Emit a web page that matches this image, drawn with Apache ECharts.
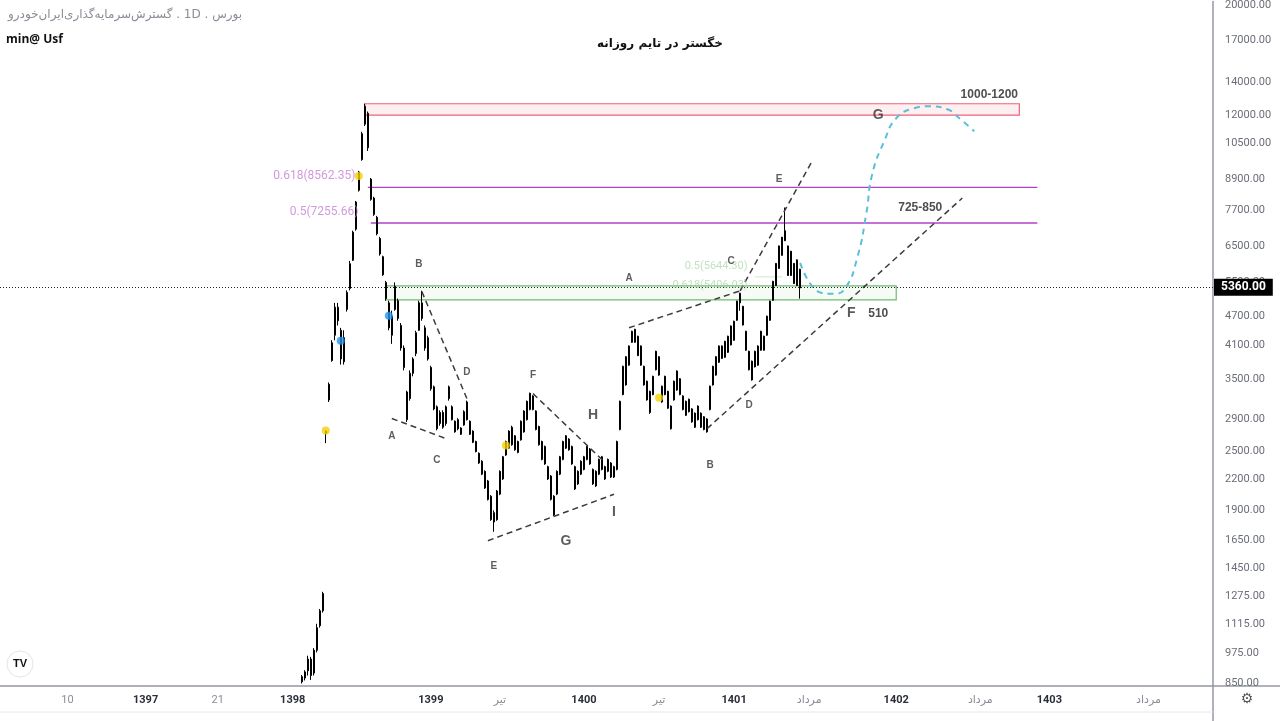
<!DOCTYPE html>
<html>
<head>
<meta charset="utf-8">
<script src="https://cdn.jsdelivr.net/npm/echarts@6/dist/echarts.min.js"></script>
<style>
  html, body { margin: 0; padding: 0; background: #fff; }
  #container { width: 1280px; height: 721px; }
</style>
</head>
<body>
<div id="container"></div>
<script>
let dom = document.getElementById("container");
let myChart = echarts.init(dom);

// x axis: one slot per candle, ticks at these slots
const slotCount = 404;
const tickIdx = [22, 48, 72, 97, 143, 166, 194, 219, 244, 269, 298, 326, 349, 382];
const tickText = ['10', '1397', '21', '1398', '1399', 'تیر', '1400', 'تیر', '1401', 'مرداد', '1402', 'مرداد', '1403', 'مرداد'];

// y axis (log scale) tick prices
const priceTicks = [20000, 17000, 14000, 12000, 10500, 8900, 7700, 6500, 5500, 4700, 4100, 3500,
    2900, 2500, 2200, 1900, 1650, 1450, 1275, 1115, 975, 850];
const priceMin = 838;
const priceMax = 20375;
const lastPrice = 5360;

// candles [open, close, low, high], first one sits on slot candleStart
const candleStart = 100;
const candles = [
    [855, 875, 848, 882], [870, 895, 860, 902], [900, 950, 880, 965], [950, 880, 862, 960],
    [890, 990, 880, 1000], [990, 1100, 980, 1120], [1110, 1190, 1100, 1200], [1190, 1290, 1180, 1300],
    [2750, 2720, 2600, 2760], [3180, 3420, 3150, 3450], [3820, 4150, 3800, 4200], [4300, 4900, 4200, 5000],
    [4900, 4600, 4500, 5000], [4400, 3850, 3750, 4450], [3800, 4250, 3750, 4400], [4850, 5250, 4800, 5300],
    [5350, 6000, 5300, 6080], [6100, 6950, 6080, 7000], [7050, 8000, 7000, 8040], [8450, 9200, 8400, 9250],
    [9750, 11000, 9700, 11100], [11500, 12500, 11400, 12650], [12100, 10300, 10150, 12200], [8900, 8100, 8050, 8950],
    [8150, 7550, 7500, 8200], [7450, 6900, 6850, 7500], [6750, 6280, 6230, 6800], [6200, 5700, 5670, 6230],
    [5500, 5100, 5050, 5540], [5000, 4450, 4400, 5050], [4300, 4700, 4130, 4820], [4850, 5400, 4820, 5500],
    [5050, 4650, 4600, 5100], [4500, 4050, 4000, 4550], [4050, 3700, 3650, 4100], [3300, 2900, 2870, 3320],
    [3200, 3600, 3170, 3650], [3600, 3850, 3550, 3880], [3950, 4350, 3900, 4390], [4400, 5000, 4390, 5050],
    [5000, 4650, 4600, 5290], [4450, 4050, 4000, 4500], [4250, 3850, 3820, 4290], [3700, 3350, 3320, 3730],
    [3380, 3050, 3030, 3400], [3080, 2780, 2760, 3100], [2850, 3000, 2820, 3030], [3000, 2800, 2780, 3030],
    [2850, 3080, 2820, 3100], [3200, 3380, 3170, 3400], [3080, 2900, 2890, 3100], [2880, 2740, 2730, 2890],
    [2780, 2900, 2760, 2920], [2790, 2710, 2700, 2800], [2830, 3010, 2820, 3030], [2900, 3150, 2890, 3170],
    [2880, 2710, 2700, 2890], [2750, 2610, 2600, 2760], [2620, 2500, 2490, 2630], [2480, 2370, 2360, 2490],
    [2390, 2250, 2240, 2400], [2280, 2110, 2100, 2290], [2180, 2000, 1990, 2190], [2030, 1820, 1810, 2040],
    [1800, 1880, 1720, 1900], [1820, 2080, 1810, 2090], [2050, 2280, 2040, 2290], [2200, 2440, 2190, 2450],
    [2460, 2620, 2450, 2630], [2540, 2750, 2530, 2760], [2800, 2580, 2570, 2820], [2690, 2520, 2510, 2700],
    [2490, 2620, 2480, 2630], [2640, 2880, 2630, 2890], [2740, 3020, 2730, 3030], [2900, 3160, 2890, 3170],
    [3040, 3280, 3030, 3290], [3240, 3040, 3030, 3250], [3020, 2770, 2760, 3030], [2810, 2580, 2570, 2820],
    [2620, 2410, 2400, 2630], [2360, 2560, 2350, 2570], [2330, 2200, 2190, 2340], [2230, 2000, 1990, 2240],
    [1860, 2030, 1850, 2040], [2050, 2280, 2040, 2290], [2250, 2440, 2240, 2450], [2410, 2620, 2400, 2630],
    [2540, 2690, 2530, 2700], [2650, 2520, 2510, 2660], [2560, 2360, 2350, 2570], [2330, 2100, 2090, 2340],
    [2150, 2280, 2140, 2290], [2250, 2390, 2240, 2400], [2300, 2440, 2290, 2450], [2410, 2560, 2400, 2570],
    [2530, 2360, 2350, 2540], [2300, 2150, 2140, 2310], [2130, 2280, 2120, 2290], [2250, 2410, 2240, 2420],
    [2440, 2300, 2290, 2450], [2330, 2200, 2190, 2340], [2280, 2410, 2270, 2420], [2370, 2220, 2210, 2380],
    [2220, 2330, 2210, 2340], [2300, 2620, 2290, 2630], [2770, 3160, 2760, 3170], [3260, 3720, 3250, 3730],
    [3890, 3410, 3400, 3900], [3740, 4090, 3730, 4100], [4160, 4380, 4150, 4390], [4420, 4160, 4150, 4430],
    [4280, 3910, 3900, 4290], [4090, 3740, 3730, 4100], [3720, 3410, 3400, 3730], [3470, 3180, 3170, 3480],
    [3000, 3310, 2980, 3320], [3260, 3550, 3250, 3560], [3660, 3990, 3650, 4000], [3890, 3570, 3560, 3900],
    [3390, 3150, 3140, 3400], [3260, 3550, 3250, 3560], [3310, 3060, 3050, 3320], [3090, 2780, 2770, 3100],
    [3180, 3470, 3170, 3480], [3330, 3640, 3320, 3650], [3510, 3260, 3250, 3520], [3240, 3040, 3030, 3250],
    [2960, 3160, 2950, 3170], [3190, 3010, 3000, 3200], [3050, 2870, 2860, 3060], [2800, 2990, 2790, 3000],
    [3090, 2900, 2890, 3100], [2800, 2990, 2790, 3000], [2940, 2770, 2760, 2950], [2740, 2910, 2730, 2920],
    [3040, 3390, 3030, 3400], [3410, 3720, 3400, 3730], [3570, 3890, 3560, 3900], [3790, 4090, 3780, 4100],
    [4090, 3860, 3850, 4100], [3880, 4180, 3870, 4190], [4280, 3970, 3960, 4290], [4110, 4490, 4100, 4500],
    [4200, 4590, 4190, 4600], [4610, 5040, 4600, 5050], [5000, 5230, 4820, 5240], [4920, 4510, 4500, 4930],
    [4380, 4010, 4000, 4390], [3990, 3660, 3650, 4000], [3490, 3810, 3480, 3820], [3710, 3990, 3700, 4000],
    [4090, 3740, 3730, 4100], [4010, 4380, 4000, 4390], [4280, 4010, 4000, 4290], [4300, 4700, 4290, 4710],
    [4610, 5040, 4600, 5050], [5060, 5530, 5050, 5540], [5420, 6010, 5410, 6020], [5870, 6520, 5860, 6530],
    [6790, 6240, 6230, 6800], [6680, 7000, 6670, 7800], [6520, 5680, 5670, 6530], [5680, 6360, 5670, 6370],
    [6010, 5470, 5460, 6020], [5420, 6110, 5410, 6120], [5850, 5360, 5100, 5860]
];

// dots drawn on the price [slot, price]
const yellowDots = [[108, 2758], [119, 9030], [168, 2572], [219, 3214]];
const blueDots = [[113, 4190], [129, 4708]];

// zones [slotFrom, priceTop, slotTo, priceBottom]
const redZone = [121, 12650, 339, 12000];
const greenZone = [128, 5412, 298, 5070];

// fibonacci levels
const fibText = ['0.618(8562.35)', '0.5(7255.66)'];
const fibPrice = [8562.35, 7255.66];
const fibFrom = [122, 123];
const fibTo = 345;

// trend lines, each [[slot, price], [slot, price]]
const trendLines = [
    [[140, 5270], [155, 3200]],
    [[130, 2916], [148, 2657]],
    [[162, 1650], [204, 2048]],
    [[177, 3276], [201, 2376]],
    [[209, 4452], [246, 5288]],
    [[246, 5288], [270, 9680]],
    [[235, 2782], [320, 8150]]
];

// projected path
const projIdx = [266, 273, 277, 281, 285, 288, 290, 294, 298, 304, 309, 315, 319, 324];
const projPrice = [6024, 5240, 5215, 5350, 6166, 7566, 9112, 10624, 11824, 12388, 12500, 12330, 11824, 11130];

// wave labels [text, slot, price]
const smallLabels = [
    ['B', 139, 5996], ['A', 130, 2682], ['C', 145, 2398], ['D', 155, 3612], ['E', 164, 1466], ['F', 177, 3560],
    ['A', 209, 5618], ['B', 236, 2344], ['C', 243, 6080], ['D', 249, 3098], ['E', 259, 8900]
];
const bigLabels = [
    ['G', 188, 1644], ['H', 197, 2956], ['I', 204, 1882], ['F', 283, 4774], ['G', 292, 11990]
];
const zoneLabels = [
    ['510', 292, 4750], ['725-850', 306, 7780], ['1000-1200', 329, 13220]
];
const faintLabels = [
    ['0.5(5644.30)', 238, 5940], ['0.618(5406.03)', 236, 5430]
];

const ln = Math.log;
const categories = Array.from({length: slotCount}, (_, i) => String(i));
const tickMap = new Map(tickIdx.map((t, k) => [t, tickText[k]]));
const candleData = categories.map(function (c, i) {
    let k = i - candleStart;
    if (k < 0 || k >= candles.length) {
        return '-';
    }
    return candles[k].map(ln);
});
const toXY = p => [p[0], ln(p[1])];

function textSeries(list, style) {
    return {
        type: 'scatter',
        symbolSize: 1,
        itemStyle: {color: 'rgba(0,0,0,0)'},
        silent: true,
        z: 6,
        label: Object.assign({show: true, position: 'inside', formatter: '{b}'}, style),
        data: list.map(l => ({name: l[0], value: [l[1], ln(l[2])]}))
    };
}

let series = [
    {
        // zones behind the price
        type: 'line',
        data: [],
        z: 1,
        markArea: {
            silent: true,
            data: [
                [{xAxis: redZone[0], yAxis: ln(redZone[1]), itemStyle: {color: 'rgba(242,54,69,0.08)', borderColor: '#f0627a', borderWidth: 1.2}},
                    {xAxis: redZone[2], yAxis: ln(redZone[3])}],
                [{xAxis: greenZone[0], yAxis: ln(greenZone[1]), itemStyle: {color: 'rgba(76,175,80,0.05)', borderColor: '#6dbb6f', borderWidth: 1.2}},
                    {xAxis: greenZone[2], yAxis: ln(greenZone[3])}]
            ]
        }
    },
    {
        type: 'candlestick',
        data: candleData,
        barWidth: 1.8,
        z: 3,
        itemStyle: {color: '#000', color0: '#000', borderColor: '#000', borderColor0: '#000', borderWidth: 1},
        markLine: {
            silent: true,
            symbol: 'none',
            data: [{yAxis: ln(lastPrice)}],
            lineStyle: {type: [1, 2], color: '#222', width: 1},
            label: {
                position: 'end', distance: 1, formatter: lastPrice.toFixed(2),
                backgroundColor: '#000', color: '#fff', padding: [3, 7, 2, 7],
                fontSize: 12, fontWeight: 'bold', fontFamily: 'Roboto, DejaVu Sans'
            }
        }
    }
];

fibPrice.forEach(function (p, k) {
    series.push({
        type: 'line',
        symbol: 'none',
        silent: true,
        z: 2,
        lineStyle: {color: '#b040c8', width: 1.3},
        data: [[fibFrom[k], ln(p)], [fibTo, ln(p)]]
    });
});
series.push(textSeries(fibText.map((t, k) => [t, fibFrom[k], fibPrice[k]]), {
    position: 'left', distance: 12, offset: [0, -11], color: '#c47fd2', fontSize: 12, fontFamily: 'Roboto, DejaVu Sans'
}));

trendLines.forEach(function (seg) {
    series.push({
        type: 'line',
        symbol: 'none',
        silent: true,
        z: 4,
        lineStyle: {color: '#3c3c3c', width: 1.5, type: [6, 4]},
        data: seg.map(toXY)
    });
});

series.push({
    type: 'line',
    symbol: 'none',
    smooth: 0.5,
    silent: true,
    z: 4,
    lineStyle: {color: '#5bbfd8', width: 2, type: [6, 5]},
    data: projIdx.map((x, k) => [x, ln(projPrice[k])])
});

series.push({
    type: 'line',
    symbol: 'none',
    silent: true,
    z: 2,
    lineStyle: {color: '#cde9cd', width: 1},
    data: [[251, ln(5644.30)], [260, ln(5644.30)]]
});

series.push({
    type: 'scatter', symbolSize: 8, z: 5, silent: true,
    itemStyle: {color: '#f5d000'},
    data: yellowDots.map(toXY)
});
series.push({
    type: 'scatter', symbolSize: 8, z: 5, silent: true,
    itemStyle: {color: '#2196f3'},
    data: blueDots.map(toXY)
});

series.push(textSeries(smallLabels, {color: '#333', fontSize: 10, fontWeight: 'bold', fontFamily: 'Liberation Sans, Arial'}));
series.push(textSeries(bigLabels, {color: '#333', fontSize: 14, fontWeight: 'bold', fontFamily: 'Liberation Sans, Arial'}));
series.push(textSeries(zoneLabels, {color: '#222', fontSize: 12, fontWeight: 'bold', fontFamily: 'Liberation Sans, Arial'}));
series.push(textSeries(faintLabels, {color: 'rgba(150,205,150,0.75)', fontSize: 11, fontFamily: 'Roboto, DejaVu Sans'}));

let option = {
    animation: false,
    backgroundColor: '#fff',
    grid: {left: 0, right: 67, top: 0, bottom: 35},
    xAxis: {
        type: 'category',
        data: categories,
        boundaryGap: true,
        axisLine: {lineStyle: {color: '#9598a1', width: 1.5}},
        axisTick: {show: false},
        splitLine: {show: false},
        axisLabel: {
            interval: (i) => tickMap.has(i),
            margin: 9,
            formatter: function (v) {
                let t = tickMap.get(Number(v)) || '';
                return /^\d{4}$/.test(t) ? '{y|' + t + '}' : '{m|' + t + '}';
            },
            rich: {
                y: {fontSize: 11, fontWeight: 'bold', color: '#2a2e39', fontFamily: 'Roboto, DejaVu Sans'},
                m: {fontSize: 11, color: '#8a8d96', fontFamily: 'Roboto, DejaVu Sans'}
            }
        }
    },
    yAxis: {
        type: 'value',
        position: 'right',
        min: ln(priceMin),
        max: ln(priceMax),
        axisLine: {show: true, lineStyle: {color: '#9598a1', width: 1.5}},
        axisTick: {show: false},
        splitLine: {show: false},
        axisLabel: {
            customValues: priceTicks.map(ln),
            formatter: v => Math.exp(v).toFixed(2),
            color: '#6b6e78',
            fontSize: 11,
            margin: 12,
            fontFamily: 'Roboto, DejaVu Sans'
        }
    },
    graphic: [
        {type: 'line', silent: true, shape: {x1: 1213, y1: 686, x2: 1280, y2: 686}, style: {stroke: '#9598a1', lineWidth: 1.5}},
        {type: 'line', silent: true, shape: {x1: 1213, y1: 686, x2: 1213, y2: 721}, style: {stroke: '#9598a1', lineWidth: 1.5}},
        {type: 'line', silent: true, shape: {x1: 0, y1: 712, x2: 1213, y2: 712}, style: {stroke: '#e6e8ee', lineWidth: 1}},
        {
            type: 'text', left: 8, top: 9, silent: true,
            style: {text: '\u202Bبورس . 1D . گسترش‌سرمایه‌گذاری‌ایران‌خودرو\u202C', fill: '#8a8d96', font: '12px "DejaVu Sans", sans-serif'}
        },
        {
            type: 'text', left: 6, top: 34, silent: true,
            style: {text: 'min@ Usf', fill: '#111', font: 'bold 12px "Open Sans", "DejaVu Sans", sans-serif'}
        },
        {
            type: 'text', x: 660, y: 44, silent: true,
            style: {text: 'خگستر در تایم روزانه', fill: '#111', font: 'bold 12px "DejaVu Sans", sans-serif', align: 'center', verticalAlign: 'middle'}
        },
        {type: 'circle', silent: true, shape: {cx: 20, cy: 664, r: 13}, style: {fill: '#fff', stroke: '#e3e5ea', lineWidth: 1}},
        {
            type: 'text', x: 20, y: 664, silent: true,
            style: {text: 'TV', fill: '#111', font: '900 11px "Liberation Sans", Arial', align: 'center', verticalAlign: 'middle'}
        },
        {
            type: 'text', x: 1247, y: 699, silent: true,
            style: {text: '⚙', fill: '#555', font: '14px "DejaVu Sans"', align: 'center', verticalAlign: 'middle'}
        }
    ],
    series: series
};

if (option && typeof option === "object") {
    myChart.setOption(option, true);
}
</script>
</body>
</html>
